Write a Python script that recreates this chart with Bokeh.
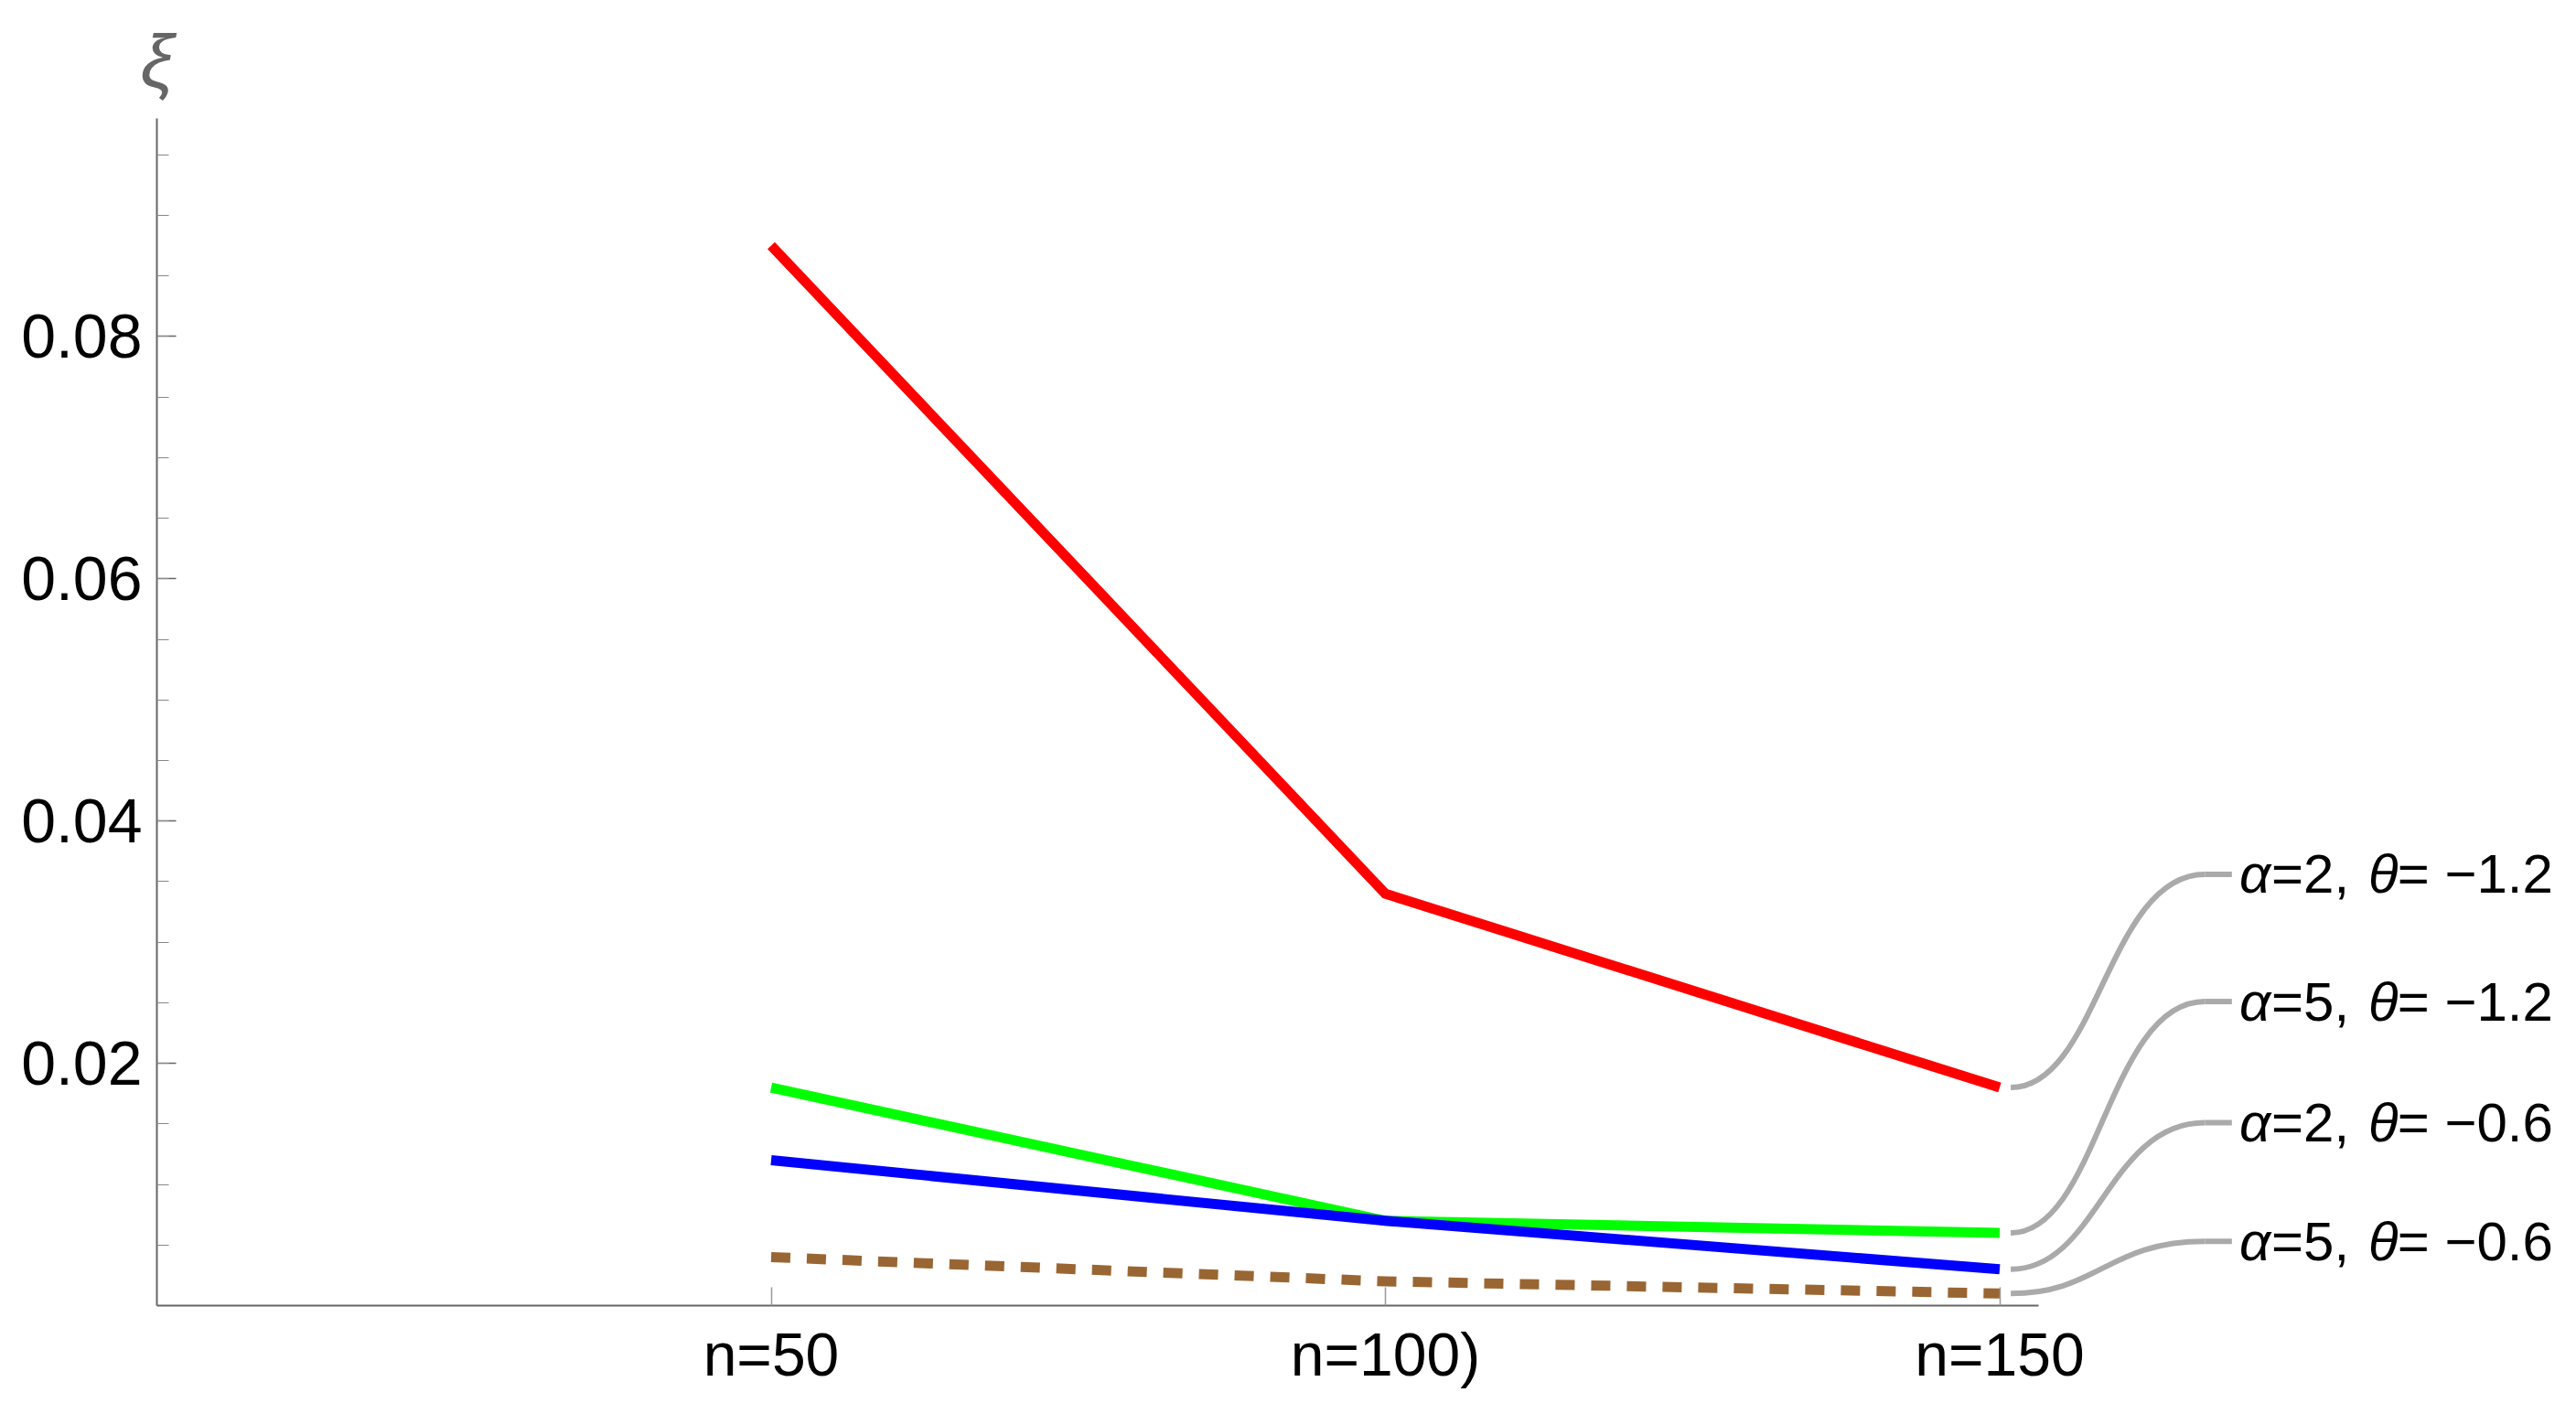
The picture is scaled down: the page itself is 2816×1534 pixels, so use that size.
from bokeh.plotting import figure
from bokeh.models import Range1d, FixedTicker
from bokeh.core.properties import value
from bokeh.embed import file_html
from bokeh.resources import INLINE

# ---------------- data ----------------
n_vals = [50, 100, 150]
n_labels = ["n=50", "n=100)", "n=150"]

xi_red = [0.0875, 0.034, 0.018]    # alpha=2, theta=-1.2
xi_green = [0.018, 0.007, 0.006]   # alpha=5, theta=-1.2
xi_blue = [0.012, 0.007, 0.003]    # alpha=2, theta=-0.6
xi_brown = [0.004, 0.002, 0.001]   # alpha=5, theta=-0.6

alpha_vals = ["2", "5", "2", "5"]
theta_vals = ["1.2", "1.2", "0.6", "0.6"]

y_major_ticks = [0.02, 0.04, 0.06, 0.08]
y_minor_step = 0.005

# ---------------- layout ----------------
W, H = 2810, 1530
BL, BT = 171, 129
FRAME_H = 1298
FRAME_W = W - BL
px_per_x = 13.43
x_end = FRAME_W / px_per_x
y_top = 0.098

label_y = [0.0356, 0.0251, 0.0151, 0.0053]   # callout label positions
lead_x0, lead_x1, lead_x2, text_x = 150.9, 166.7, 168.9, 169.5

FONT = "Liberation Sans"

p = figure(width=W, height=H, output_backend="svg", toolbar_location=None,
           x_range=Range1d(0, x_end), y_range=Range1d(0, y_top),
           min_border_left=BL, min_border_top=BT, min_border_right=0,
           min_border_bottom=H - BT - FRAME_H, title="ξ")
p.outline_line_color = None
p.xgrid.visible = False
p.ygrid.visible = False
p.background_fill_color = "white"
p.border_fill_color = "white"

# axis label xi (as title, at top of y axis)
p.title.text_font = FONT
p.title.text_font_size = "82px"
p.title.text_font_style = "italic"
p.title.text_color = "#666666"
p.title.align = "left"
p.title.offset = -18
p.title.standoff = 35

# x axis
p.xaxis.bounds = (-3.1, 153.2)
p.xaxis.ticker = FixedTicker(ticks=n_vals, minor_ticks=[])
p.xaxis.major_label_overrides = {v: l for v, l in zip(n_vals, n_labels)}
p.xaxis.axis_line_color = "#666666"
p.xaxis.axis_line_width = 2
p.xaxis.major_tick_in = 20
p.xaxis.major_tick_out = 0
p.xaxis.major_tick_line_color = "#999999"
p.xaxis.major_tick_line_width = 1.5
p.xaxis.minor_tick_line_color = None
p.xaxis.major_label_standoff = 16
p.xaxis.major_label_text_font = FONT
p.xaxis.major_label_text_font_size = "66px"
p.xaxis.major_label_text_color = "black"

# y axis
minor = [round(y_minor_step * i, 4) for i in range(1, int(round(y_top / y_minor_step)) + 1)]
p.yaxis.bounds = (0, y_top)
p.yaxis.ticker = FixedTicker(ticks=y_major_ticks, minor_ticks=minor)
p.yaxis.axis_line_color = "#666666"
p.yaxis.axis_line_width = 2
p.yaxis.major_tick_in = 21
p.yaxis.major_tick_out = 0
p.yaxis.minor_tick_in = 13
p.yaxis.minor_tick_out = 0
p.yaxis.major_tick_line_color = "#666666"
p.yaxis.minor_tick_line_color = "#888888"
p.yaxis.major_tick_line_width = 1.5
p.yaxis.minor_tick_line_width = 1.2
p.yaxis.major_label_standoff = 16
p.yaxis.major_label_text_font = FONT
p.yaxis.major_label_text_font_size = "68px"
p.yaxis.major_label_text_color = "black"

# series
series = [
    (xi_red, "#ff0000", "solid"),
    (xi_green, "#00ff00", "solid"),
    (xi_blue, "#0000ff", "solid"),
    (xi_brown, "#996633", "21 18"),
]
for ys, col, dash in series:
    p.line(n_vals, ys, line_color=col, line_width=11, line_cap="butt",
           line_join="miter", line_dash=dash)

# callout leaders
ends = [s[0][-1] for s in series]
dx = lead_x1 - lead_x0
p.bezier(x0=[lead_x0] * 4, y0=ends, x1=[lead_x1] * 4, y1=label_y,
         cx0=[lead_x0 + 0.45 * dx] * 4, cy0=ends,
         cx1=[lead_x1 - 0.5 * dx] * 4, cy1=label_y,
         line_color="#aaaaaa", line_width=6)
p.segment(x0=[lead_x1] * 4, y0=label_y, x1=[lead_x2] * 4, y1=label_y,
          line_color="#aaaaaa", line_width=6)

# callout labels (italic greek letters)
fs = 60
parts = [
    (["α"] * 4, 0.0, "italic"),
    (["=" + a + ", " for a in alpha_vals], 0.585, "normal"),
    (["θ"] * 4, 2.35, "italic"),
    (["= \u2212" + t for t in theta_vals], 2.88, "normal"),
]
for txt, off, style in parts:
    p.text(x=[text_x] * 4, y=label_y, text=txt, x_offset=off * fs,
           text_font=value(FONT), text_font_size=f"{fs}px",
           text_font_style=style, text_baseline="middle", text_align="left",
           text_color="black")

open("out.html", "w").write(file_html(p, INLINE))
